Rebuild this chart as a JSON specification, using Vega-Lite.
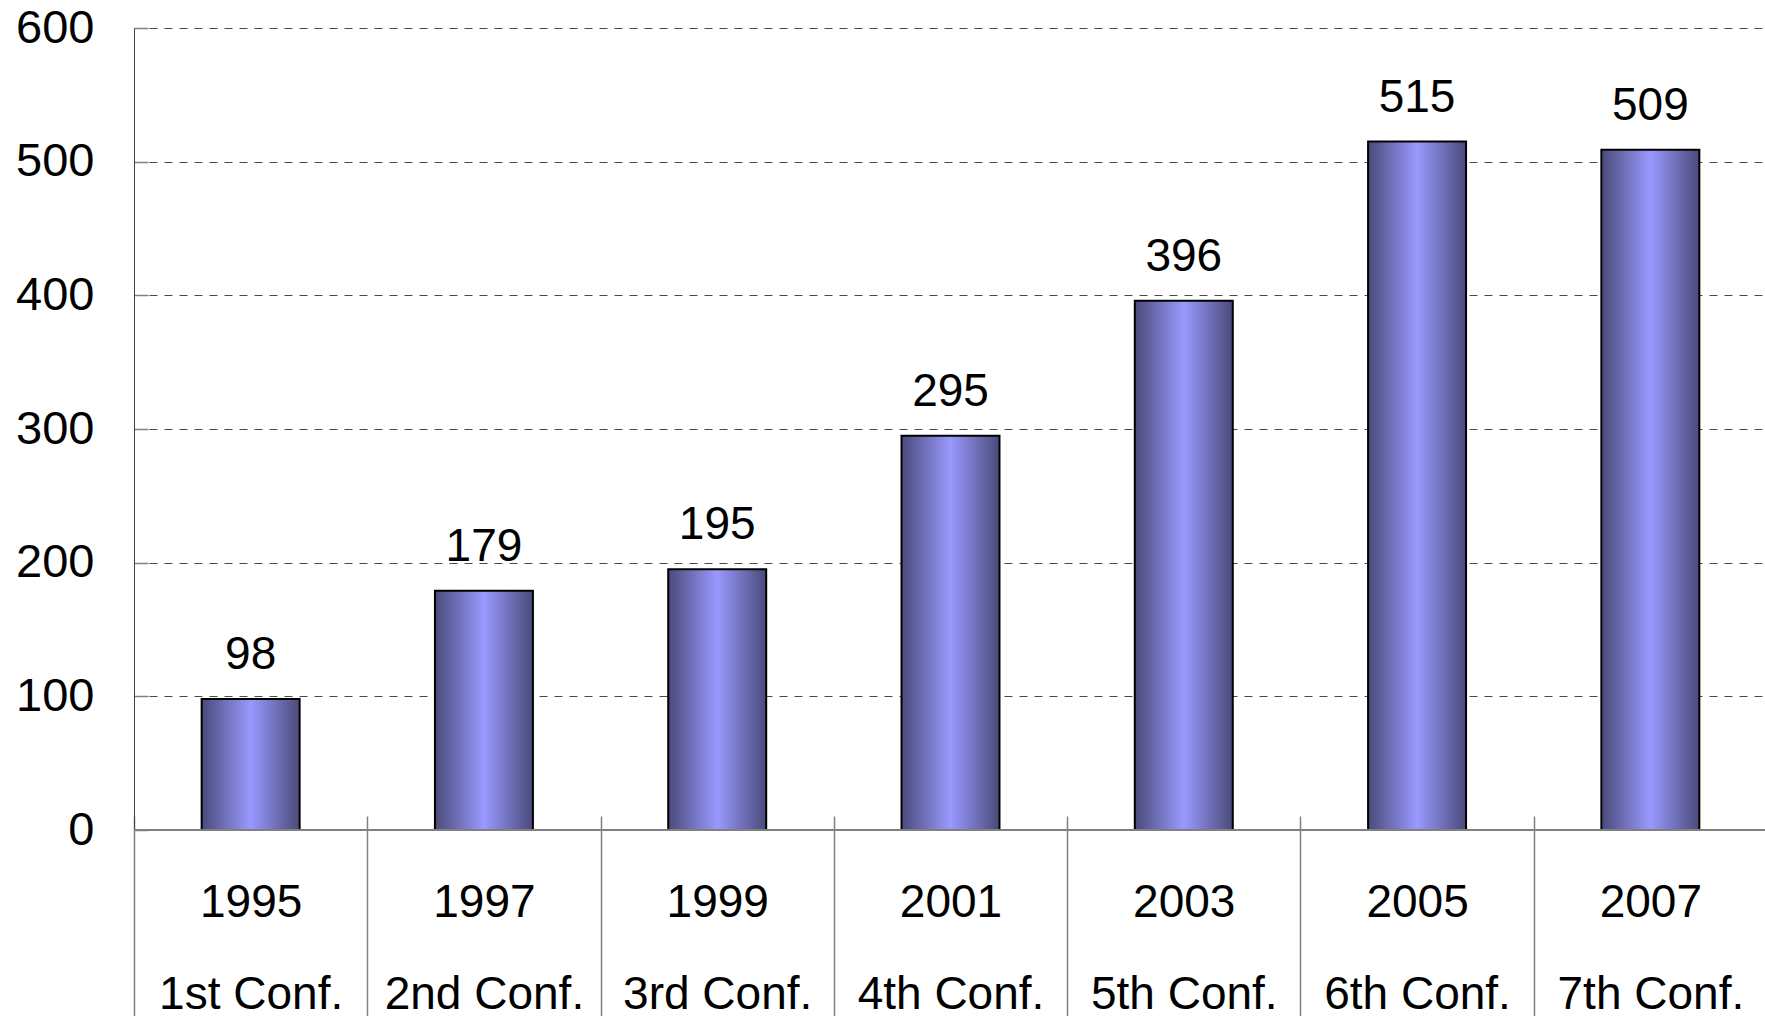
{
  "$schema": "https://vega.github.io/schema/vega-lite/v6.json",
  "autosize": "none",
  "width": 1633,
  "height": 802,
  "padding": {"left": 134, "top": 28, "right": 0, "bottom": 186},
  "background": "white",
  "config": {"view": {"stroke": null}, "font": "Liberation Sans"},
  "data": {"values": [
    {"key": "1995|1st Conf.", "value": 98},
    {"key": "1997|2nd Conf.", "value": 179},
    {"key": "1999|3rd Conf.", "value": 195},
    {"key": "2001|4th Conf.", "value": 295},
    {"key": "2003|5th Conf.", "value": 396},
    {"key": "2005|6th Conf.", "value": 515},
    {"key": "2007|7th Conf.", "value": 509}
  ]},
  "encoding": {
    "x": {"field": "key", "type": "nominal", "sort": null,
      "scale": {"paddingInner": 0, "paddingOuter": 0},
      "axis": {"title": null, "labelAngle": 0, "labelExpr": "split(datum.label, '|')",
        "labelLineHeight": 92, "labelFontSize": 46, "labelBaseline": "top", "labelColor": "black",
        "labelPadding": -150, "tickBand": "extent", "tickSize": 214, "offset": -14, "labelLimit": 0,
        "domain": false, "tickColor": "#808080", "tickWidth": 1.5, "labelOverlap": false, "labelBound": false}},
    "y": {"field": "value", "type": "quantitative",
      "scale": {"domain": [0, 600], "nice": false},
      "axis": {"title": null, "values": [0, 100, 200, 300, 400, 500, 600],
        "grid": true, "gridDash": [8, 7], "gridColor": "#4a4a4a", "gridWidth": 1.2,
        "tickSize": -14, "labelPadding": 54, "labelFontSize": 47, "labelColor": "black",
        "domainColor": "#404040", "tickColor": "#808080", "tickWidth": 1.5, "labelBound": false}}
  },
  "layer": [
    {"mark": {"type": "bar", "stroke": "black", "strokeWidth": 2, "width": {"band": 0.42},
      "fill": {"gradient": "linear", "x1": 0, "y1": 0, "x2": 1, "y2": 0,
        "stops": [
          {"offset": 0, "color": "#4a4a7a"},
          {"offset": 0.5, "color": "#9999ff"},
          {"offset": 1, "color": "#4a4a7a"}
        ]}}},
    {"mark": {"type": "text", "fontSize": 46, "baseline": "alphabetic", "dy": -30, "color": "black"},
      "encoding": {"text": {"field": "value", "type": "quantitative"}}},
    {"mark": {"type": "rule", "color": "#808080", "strokeWidth": 1.5},
      "encoding": {"y": {"datum": 0}, "x": null}}
  ]
}
